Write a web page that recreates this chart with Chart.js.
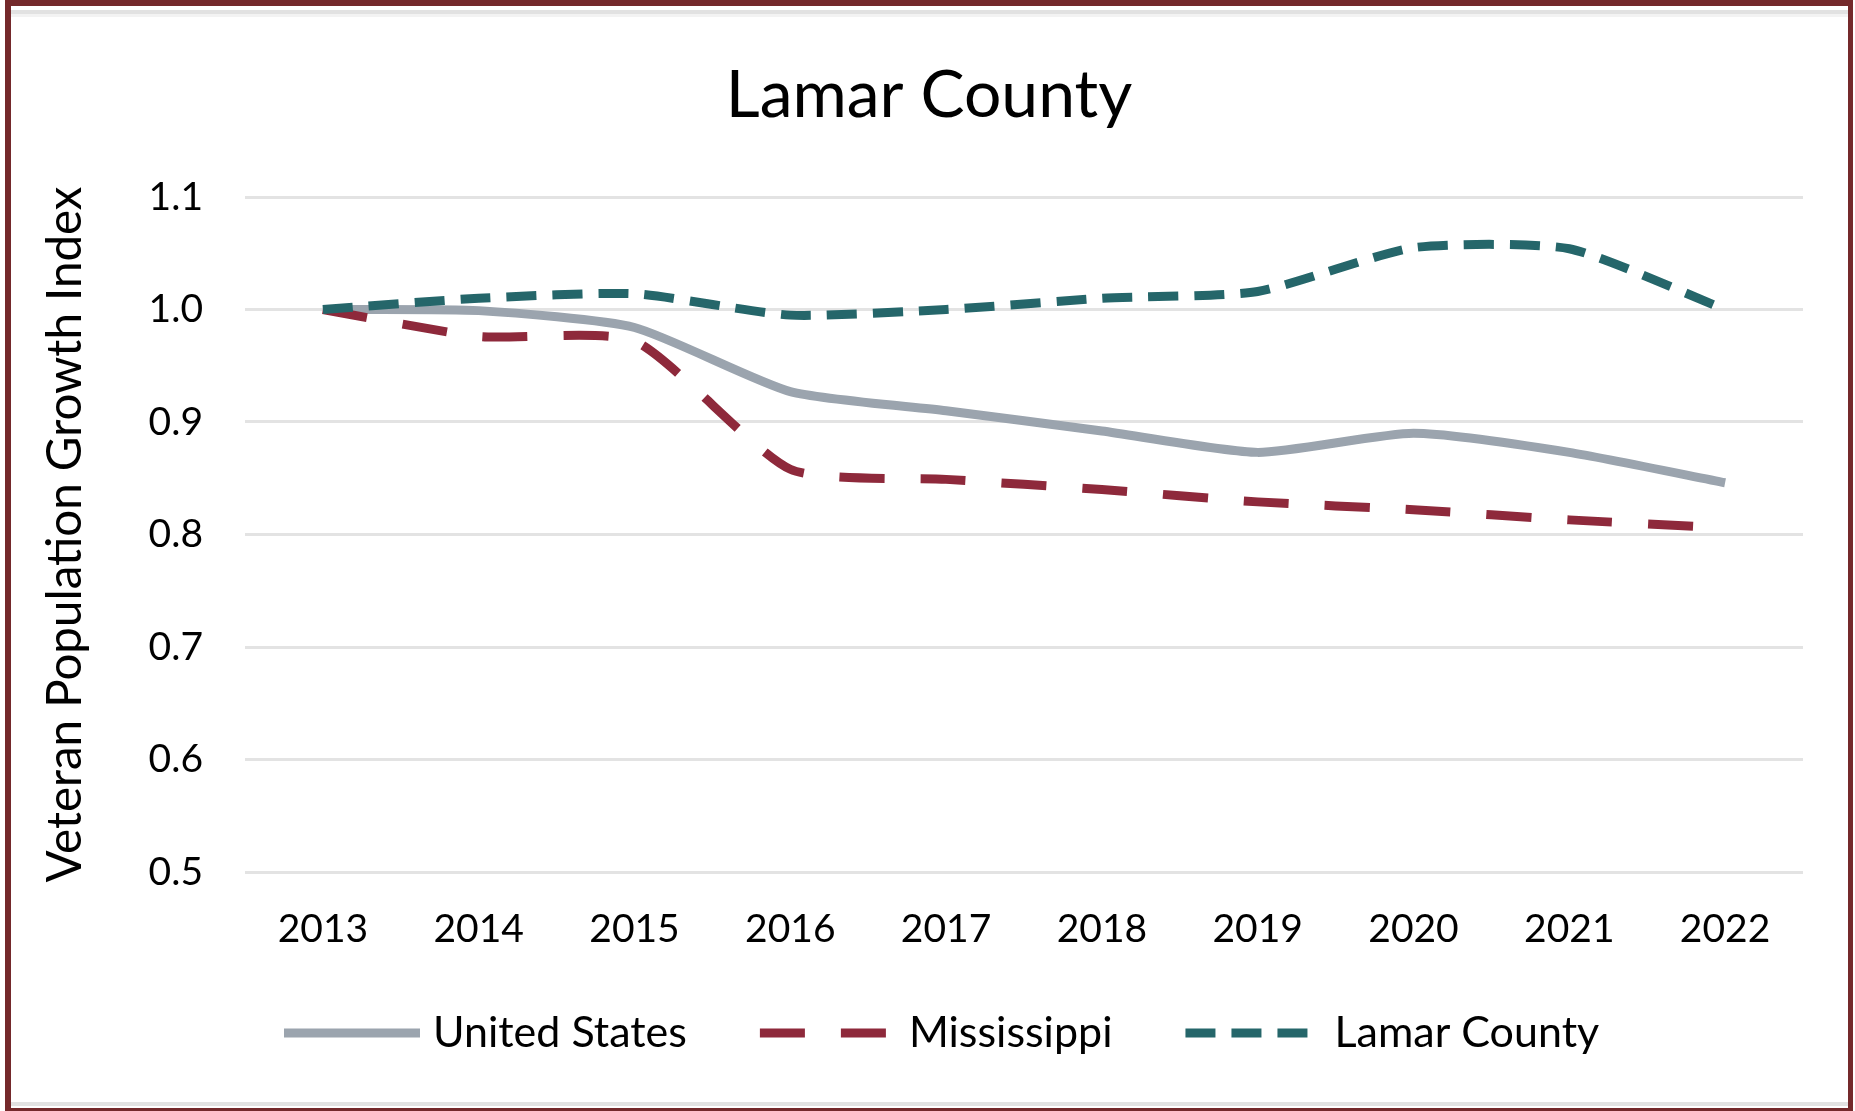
<!DOCTYPE html>
<html><head><meta charset="utf-8">
<script src="https://cdn.jsdelivr.net/npm/chart.js@4.4.1/dist/chart.umd.min.js"></script>
<style>html,body{margin:0;padding:0;background:#fff;overflow:hidden}#wrap{width:1855px;height:1111px;position:relative}</style>
</head><body><div id="wrap"><canvas id="c" width="1855" height="1111"></canvas></div>
<script>
const years = ['2013','2014','2015','2016','2017','2018','2019','2020','2021','2022'];
const unitedStates = [1.000, 0.999, 0.984, 0.927, 0.910, 0.892, 0.873, 0.890, 0.873, 0.846];
const mississippi  = [1.000, 0.976, 0.972, 0.858, 0.849, 0.840, 0.829, 0.822, 0.813, 0.806];
const lamarCounty  = [1.000, 1.010, 1.014, 0.995, 1.000, 1.010, 1.016, 1.055, 1.054, 1.000];
const yMin = 0.5, yMax = 1.1, yStep = 0.1;
const chartTitle = 'Lamar County';
const yTitle = 'Veteran Population Growth Index';
const seriesNames = ['United States', 'Mississippi', 'Lamar County'];

const FONT = 'Lato';
const frame = {
  id: 'frame',
  beforeDraw(chart) {
    const ctx = chart.ctx;
    ctx.save();
    ctx.fillStyle = '#fff';
    ctx.fillRect(0, 0, chart.width, chart.height);
    ctx.fillStyle = '#e2e2e2';
    ctx.fillRect(11, 10, 1837, 4);
    ctx.fillStyle = '#f3f3f3';
    ctx.fillRect(11, 14, 1837, 3);
    ctx.fillStyle = '#e2e2e2';
    ctx.fillRect(11, 1102, 1837, 4);
    ctx.fillStyle = '#74292b';
    ctx.fillRect(5, 0, 1848, 6);
    ctx.fillRect(5, 0, 6, 1111);
    ctx.fillRect(1848, 0, 5, 1111);
    ctx.fillRect(5, 1108, 1848, 3);
    ctx.restore();
  }
};
const titleAndLegend = {
  id: 'titleAndLegend',
  afterDraw(chart) {
    const ctx = chart.ctx;
    ctx.save();
    // title centred on the page
    ctx.font = '66px ' + FONT;
    ctx.fillStyle = '#000';
    ctx.textAlign = 'center';
    ctx.textBaseline = 'middle';
    ctx.fillText(chartTitle, 929, 96);
    // legend
    const sample = 136;
    let x = 284;
    const y = 1033;
    ctx.font = '43px ' + FONT;
    ctx.textAlign = 'left';
    chart.data.datasets.forEach((ds) => {
      ctx.save();
      ctx.strokeStyle = ds.borderColor;
      ctx.lineWidth = ds.borderWidth;
      ctx.setLineDash(ds.borderDash || []);
      ctx.beginPath();
      ctx.moveTo(x, y);
      ctx.lineTo(x + sample, y);
      ctx.stroke();
      ctx.restore();
      x += sample + 13;
      ctx.fillText(ds.label, x, y);
      x += ctx.measureText(ds.label).width + 73;
    });
    ctx.restore();
  }
};

new Chart(document.getElementById('c'), {
  type: 'line',
  data: {
    labels: years,
    datasets: [
      { label: seriesNames[0], data: unitedStates, borderColor: '#9ba4ae', borderWidth: 9, tension: 0.2, pointRadius: 0, order: 2 },
      { label: seriesNames[1], data: mississippi, borderColor: '#8e293b', borderWidth: 9, borderDash: [45, 36], tension: 0.2, pointRadius: 0, order: 1 },
      { label: seriesNames[2], data: lamarCounty, borderColor: '#25666a', borderWidth: 9, borderDash: [30, 16], tension: 0.2, pointRadius: 0, order: 0 }
    ]
  },
  options: {
    responsive: false,
    animation: false,
    devicePixelRatio: 1,
    layout: { padding: { left: 0, right: 52, top: 197, bottom: 0 } },
    plugins: {
      legend: { display: false },
      tooltip: { enabled: false },
      title: { display: false }
    },
    scales: {
      x: {
        offset: true,
        grid: { display: false, drawTicks: false },
        border: { display: false },
        ticks: { color: '#000', font: { family: FONT, size: 39 }, padding: 34, maxRotation: 0 },
        afterFit(s) { s.height = 239; }
      },
      y: {
        min: yMin, max: yMax,
        grid: { color: '#e3e3e3', lineWidth: 3, drawTicks: false },
        border: { display: false },
        ticks: { stepSize: yStep, color: '#000', font: { family: FONT, size: 39 }, padding: 42, callback: v => Number(v).toFixed(1) },
        title: { display: true, text: yTitle, color: '#000', font: { family: FONT, size: 47.5 }, padding: { top: 37, bottom: 0 } },
        afterFit(s) { s.width = 245; }
      }
    }
  },
  plugins: [frame, titleAndLegend]
});
</script></body></html>
